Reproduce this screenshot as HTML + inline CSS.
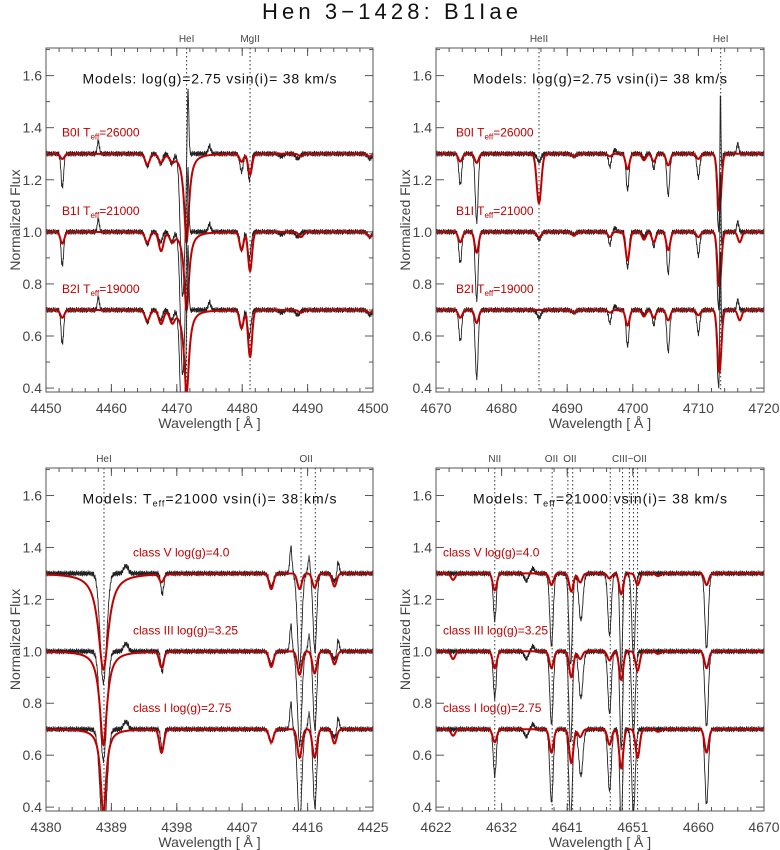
<!DOCTYPE html>
<html><head><meta charset="utf-8"><style>
html,body{margin:0;padding:0;background:#fff;}
svg{display:block;font-family:"Liberation Sans",sans-serif;}
</style></head><body>
<svg id="chart" width="780" height="850" viewBox="0 0 780 850" xmlns="http://www.w3.org/2000/svg">
<text x="262" y="19" font-size="22" fill="#111" textLength="256" lengthAdjust="spacing">Hen 3−1428: B1Iae</text>
</svg>
<script>
// ---------- Data ----------
const noiseTemplate = [0.3,-0.8,0.5,1.0,-0.4,-1.0,0.2,0.7,-0.6,0.9,-0.2,-0.9,0.6,0.1,-0.5,0.8,-1.0,0.4,0.0,-0.7,1.0,-0.3,0.5,-0.6,0.2,0.9,-0.8,0.3,-0.1,0.6,-0.9,0.7];
const offsets = [1.3, 1.0, 0.7];

// Panel 1
const p1Ticks = [4450,4460,4470,4480,4490,4500];
const p1TickLabels = ["4450","4460","4470","4480","4490","4500"];
const p1ModelCenters = [4452.5,4465.5,4467.6,4469.3,4471.5,4479.9,4481.2,4489.0,4499.5];
const p1ModelWidths  = [0.3,0.35,0.35,0.35,0.45,0.3,0.3,0.35,0.35];
const p1ModelKinds   = ["g","g","g","g","l","g","g","g","g"];
const p1ModelDepth0  = [0.02,0.04,0.03,0.02,0.34,0.03,0.08,0.01,0.01];
const p1ModelDepth1  = [0.045,0.04,0.07,0.03,0.30,0.07,0.15,0.02,0.02];
const p1ModelDepth2  = [0.03,0.04,0.05,0.04,0.32,0.07,0.18,0.01,0.01];
const p1ObsCenters = [4452.5,4465.5,4467.5,4469.2,4470.9,4479.9,4481.1,4486.0,4488.5,4499.5,4458.0,4471.7,4475.0];
const p1ObsWidths  = [0.2,0.3,0.3,0.3,0.35,0.25,0.25,0.3,0.3,0.3,0.15,0.13,0.2];
const p1ObsDepths  = [0.13,0.05,0.04,0.04,0.55,0.07,0.10,0.01,0.02,0.02,-0.05,-0.28,-0.03];
const p1Markers = [4471.5,4481.2];
const p1MarkerLabels = ["HeI","MgII"];
const p1SpecLabels = [["B0I T","=26000"],["B1I T","=21000"],["B2I T","=19000"]];

// Panel 2
const p2Ticks = [4670,4680,4690,4700,4710,4720];
const p2TickLabels = ["4670","4680","4690","4700","4710","4720"];
const p2ModelCenters = [4673.7,4676.2,4685.7,4691.0,4696.5,4699.2,4701.7,4703.2,4705.4,4710.0,4713.2,4716.3];
const p2ModelWidths  = [0.3,0.3,0.35,0.3,0.3,0.3,0.3,0.3,0.3,0.3,0.3,0.3];
const p2ModelKinds   = ["g","g","g","g","g","g","g","g","g","g","g","g"];
const p2ModelDepth0  = [0.03,0.035,0.19,0.01,0.01,0.06,0.025,0.03,0.045,0.02,0.22,0.0];
const p2ModelDepth1  = [0.04,0.08,0.02,0.015,0.02,0.11,0.03,0.04,0.07,0.02,0.21,0.04];
const p2ModelDepth2  = [0.03,0.05,0.0,0.01,0.01,0.06,0.025,0.03,0.04,0.02,0.24,0.04];
const p2ObsCenters = [4673.7,4676.2,4685.7,4691.0,4696.5,4699.2,4701.7,4703.2,4705.4,4710.0,4713.1,4713.35,4716.0,4697.3];
const p2ObsWidths  = [0.22,0.22,0.3,0.3,0.2,0.22,0.2,0.2,0.22,0.22,0.25,0.08,0.15,0.2];
const p2ObsDepths  = [0.12,0.26,0.03,0.01,0.05,0.14,0.02,0.06,0.16,0.09,0.30,-0.42,-0.04,-0.015];
const p2Markers = [4685.7,4713.4];
const p2MarkerLabels = ["HeII","HeI"];
const p2SpecLabels = p1SpecLabels;

// Panel 3
const p3Ticks = [4380,4389,4398,4407,4416,4425];
const p3TickLabels = ["4380","4389","4398","4407","4416","4425"];
const p3ModelCenters = [4387.9,4395.9,4411.0,4414.9,4416.97,4419.7];
const p3ModelWidths  = [1.0,0.3,0.3,0.3,0.3,0.3];
const p3LorScale     = [0.85,0.6,0.45];
const p3ModelKinds   = ["l","g","g","g","g","g"];
const p3ModelDepth0  = [0.37,0.03,0.06,0.06,0.055,0.05];
const p3ModelDepth1  = [0.36,0.06,0.06,0.09,0.085,0.05];
const p3ModelDepth2  = [0.33,0.09,0.05,0.11,0.11,0.055];
const p3ObsCenters = [4387.9,4396.0,4411.0,4414.9,4417.0,4419.7,4413.7,4416.2,4420.2,4391.0];
const p3ObsWidths  = [0.45,0.2,0.3,0.3,0.25,0.3,0.15,0.15,0.15,0.3];
const p3ObsDepths  = [0.42,0.08,0.05,0.36,0.30,0.03,-0.10,-0.06,-0.05,-0.03];
const p3Markers = [4387.98,4415.1,4417.06];
const p3MarkerLabels = ["HeI","OII",""];
const p3LabelPos = [4387.98,4415.8,0];
const p3SpecLabels = [["class V log(g)=4.0",""],["class III log(g)=3.25",""],["class I log(g)=2.75",""]];

// Panel 4
const p4Ticks = [4622,4631.6,4641.2,4650.8,4660.4,4670];
const p4TickLabels = ["4622","4632","4641","4651","4660","4670"];
const p4ModelCenters = [4624.5,4630.6,4638.9,4641.8,4643.1,4647.4,4649.1,4651.5,4654.5,4661.6];
const p4ModelWidths  = [0.3,0.3,0.3,0.3,0.3,0.3,0.3,0.3,0.35,0.3];
const p4ModelKinds   = ["g","g","g","g","g","g","g","g","g","g"];
const p4ModelDepth0  = [0.025,0.065,0.045,0.07,0.035,0.02,0.08,0.045,0.01,0.045];
const p4ModelDepth1  = [0.03,0.065,0.065,0.10,0.03,0.035,0.11,0.075,0.01,0.065];
const p4ModelDepth2  = [0.025,0.05,0.09,0.13,0.03,0.06,0.15,0.11,0.01,0.09];
const p4ObsCenters = [4630.6,4635.2,4638.9,4641.7,4643.2,4647.4,4649.1,4650.9,4661.6,4636.2];
const p4ObsWidths  = [0.22,0.25,0.25,0.25,0.3,0.25,0.2,0.25,0.25,0.2];
const p4ObsDepths  = [0.18,0.03,0.28,0.35,0.18,0.24,0.38,0.32,0.29,-0.02];
const p4Markers = [4630.6,4639.0,4641.3,4642.0,4647.5,4649.3,4650.3,4650.9,4651.5];
const p4MarkerLabels = ["NII","OII","OII","","","","CIII−OII","",""];
const p4LabelPos = [4630.6,4638.9,4641.6,0,0,0,4650.3,0,0];
const p4SpecLabels = p3SpecLabels;

// ---------- Rendering ----------
const NS = "http://www.w3.org/2000/svg";
const svg = document.getElementById("chart");
const F_MIN = 0.385, F_MAX = 1.706;

function mk(tag, attrs, parent){
  const e = document.createElementNS(NS, tag);
  for (const k in attrs) e.setAttribute(k, attrs[k]);
  (parent||svg).appendChild(e);
  return e;
}
function profile(x, centers, widths, kinds, depths, lorScale){
  let s = 0;
  for (let i=0;i<centers.length;i++){
    const d = depths[i]; if (!d) continue;
    const dx = x - centers[i];
    if (kinds && kinds[i]==="l"){
      const w = widths[i]*(lorScale||1);
      s += d/(1+(dx/w)*(dx/w));
    } else {
      s += d*Math.exp(-0.5*(dx/widths[i])*(dx/widths[i]));
    }
  }
  return s;
}

const panels = [
 {name:"panel-top-left", x0:46,x1:373,y0:48,y1:392, w0:4450,w1:4500, ticks:p1Ticks, labels:p1TickLabels, minor:2,
  mc:p1ModelCenters, mw:p1ModelWidths, mk:p1ModelKinds, md:[p1ModelDepth0,p1ModelDepth1,p1ModelDepth2],
  oc:p1ObsCenters, ow:p1ObsWidths, od:p1ObsDepths, markers:p1Markers, mlabels:p1MarkerLabels, mpos:p1Markers,
  spec:p1SpecLabels, header:["Models: log(g)=2.75 vsin(i)=  38 km/s"], specX:62, sub:true},
 {name:"panel-top-right", x0:436,x1:764,y0:48,y1:392, w0:4670,w1:4720, ticks:p2Ticks, labels:p2TickLabels, minor:2,
  mc:p2ModelCenters, mw:p2ModelWidths, mk:p2ModelKinds, md:[p2ModelDepth0,p2ModelDepth1,p2ModelDepth2],
  oc:p2ObsCenters, ow:p2ObsWidths, od:p2ObsDepths, markers:p2Markers, mlabels:p2MarkerLabels, mpos:p2Markers,
  spec:p2SpecLabels, header:["Models: log(g)=2.75 vsin(i)=  38 km/s"], specX:456, sub:true},
 {name:"panel-bottom-left", x0:46,x1:373,y0:468,y1:811, w0:4380,w1:4425, ticks:p3Ticks, labels:p3TickLabels, minor:1.8,
  mc:p3ModelCenters, mw:p3ModelWidths, mk:p3ModelKinds, md:[p3ModelDepth0,p3ModelDepth1,p3ModelDepth2], lor:p3LorScale,
  oc:p3ObsCenters, ow:p3ObsWidths, od:p3ObsDepths, markers:p3Markers, mlabels:p3MarkerLabels, mpos:p3LabelPos,
  spec:p3SpecLabels, header:["Models: T","=21000 vsin(i)=  38 km/s"], specX:133, sub:false},
 {name:"panel-bottom-right", x0:436,x1:764,y0:468,y1:811, w0:4622,w1:4670, ticks:p4Ticks, labels:p4TickLabels, minor:1.92,
  mc:p4ModelCenters, mw:p4ModelWidths, mk:p4ModelKinds, md:[p4ModelDepth0,p4ModelDepth1,p4ModelDepth2],
  oc:p4ObsCenters, ow:p4ObsWidths, od:p4ObsDepths, markers:p4Markers, mlabels:p4MarkerLabels, mpos:p4LabelPos,
  spec:p4SpecLabels, header:["Models: T","=21000 vsin(i)=  38 km/s"], specX:443, sub:false}
];

const defs = mk("defs",{});
panels.forEach((p,pi)=>{
  const xs = w => p.x0 + (w-p.w0)/(p.w1-p.w0)*(p.x1-p.x0);
  const ys = f => p.y0 + (F_MAX-f)/(F_MAX-F_MIN)*(p.y1-p.y0);
  const g = mk("g",{});
  
  
  const cp = mk("clipPath",{id:"clip"+pi},defs);
  mk("rect",{x:p.x0,y:p.y0,width:p.x1-p.x0,height:p.y1-p.y0},cp);

  const ya = mk("g",{},g);
  
  
  for (let k=4;k<=17;k++){
    const f = k/10, y = ys(f), major = (k%2===0);
    const L = major?8:4;
    mk("line",{x1:p.x0,x2:p.x0+L,y1:y,y2:y,stroke:"#555","stroke-width":1},ya);
    mk("line",{x1:p.x1,x2:p.x1-L,y1:y,y2:y,stroke:"#555","stroke-width":1},ya);
    if (major && f<=1.6){
      const t = mk("text",{x:p.x0-4,y:y+5,"font-size":14,"text-anchor":"end",fill:"#444"},ya);
      t.textContent = f.toFixed(1);
      
      
    }
  }
  const yt = mk("text",{x:0,y:0,"font-size":14,"text-anchor":"middle",fill:"#444",
    transform:`translate(${p.x0-26},${(p.y0+p.y1)/2}) rotate(-90)`},ya);
  yt.textContent = "Normalized Flux";
  
  

  const xa = mk("g",{},g);
  
  
  for (let w=p.w0; w<=p.w1+1e-6; w+=p.minor){
    const x = xs(w);
    mk("line",{x1:x,x2:x,y1:p.y1,y2:p.y1-4,stroke:"#555"},xa);
    mk("line",{x1:x,x2:x,y1:p.y0,y2:p.y0+4,stroke:"#555"},xa);
  }
  p.ticks.forEach((w,i)=>{
    const x = xs(w);
    mk("line",{x1:x,x2:x,y1:p.y1,y2:p.y1-8,stroke:"#555"},xa);
    mk("line",{x1:x,x2:x,y1:p.y0,y2:p.y0+8,stroke:"#555"},xa);
    const t = mk("text",{x:x,y:p.y1+21,"font-size":14,"text-anchor":"middle",fill:"#444"},xa);
    t.textContent = p.labels[i];
    
    
  });
  const xt = mk("text",{x:(p.x0+p.x1)/2,y:p.y1+36,"font-size":14,"text-anchor":"middle",fill:"#444"},xa);
  xt.textContent = "Wavelength [ Å ]";
  
  

  p.markers.forEach((w,i)=>{
    const x = xs(w);
    const l = mk("line",{x1:x,x2:x,y1:p.y0,y2:p.y1,stroke:"#333","stroke-width":1,"stroke-dasharray":"1.5,2.5"},g);
    
    
    if (p.mlabels[i]){
      const t = mk("text",{x:xs(p.mpos[i]),y:p.y0-6,"font-size":10,"text-anchor":"middle",fill:"#444"},g);
      t.textContent = p.mlabels[i];
      
      
    }
  });

  const sg = mk("g",{"clip-path":`url(#clip${pi})`},g);
  const N = 900;
  for (let s=0;s<3;s++){
    let obs="", mod="";
    for (let i=0;i<=N;i++){
      const w = p.w0 + (p.w1-p.w0)*i/N;
      const fo = offsets[s] - profile(w,p.oc,p.ow,null,p.od) + 0.011*noiseTemplate[i%noiseTemplate.length];
      const fm = offsets[s] - profile(w,p.mc,p.mw,p.mk,p.md[s], p.lor?p.lor[s]:1);
      obs += (i?"L":"M")+xs(w).toFixed(2)+","+ys(fo).toFixed(2);
      mod += (i?"L":"M")+xs(w).toFixed(2)+","+ys(fm).toFixed(2);
    }
    const po = mk("path",{d:obs,fill:"none",stroke:"#222","stroke-width":0.9},sg);
    
    
    const pm = mk("path",{d:mod,fill:"none",stroke:"#c00000","stroke-width":2},sg);
    
    
  }

  mk("rect",{x:p.x0,y:p.y0,width:p.x1-p.x0,height:p.y1-p.y0,fill:"none",stroke:"#555","stroke-width":1},g);

  const hx = (p.x0+p.x1)/2;
  const h = mk("text",{x:hx-127,y:ys(1.6)+8,"font-size":14,fill:"#111",textLength:254,lengthAdjust:"spacing"},g);
  
  
  if (p.header.length===1){ h.textContent = p.header[0]; }
  else {
    mk("tspan",{},h).textContent = p.header[0];
    mk("tspan",{dy:3,"font-size":9},h).textContent = "eff";
    mk("tspan",{dy:-3},h).textContent = p.header[1];
  }
  p.spec.forEach((lab,s)=>{
    const y = ys(offsets[s]+0.1)+9;
    const t = mk("text",{x:p.specX,y:y,"font-size":12,fill:"#c00000"},g);
    
    
    if (p.sub){
      mk("tspan",{},t).textContent = lab[0];
      mk("tspan",{dy:3,"font-size":8},t).textContent = "eff";
      mk("tspan",{dy:-3},t).textContent = lab[1];
    } else t.textContent = lab[0];
  });
});
</script>
</body></html>
